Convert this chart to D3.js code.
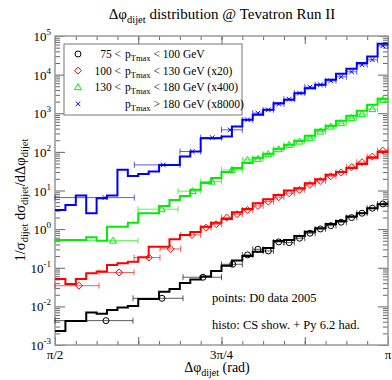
<!DOCTYPE html>
<html>
<head>
<meta charset="utf-8">
<script src="https://cdn.jsdelivr.net/npm/d3@7"></script>
<style>
body { margin: 0; background: #fff; }
text { font-family: "Liberation Serif", "Times New Roman", serif; fill: #000; }
</style>
</head>
<body>
<div id="chart"></div>
<script>
// bords des bins de l'histogramme (rad)
const histEdges = [1.5708,1.6199,1.6690,1.7181,1.7671,1.8162,1.8653,1.9144,1.9635,2.0126,2.0617,2.1108,2.1598,2.2089,2.2580,2.3071,2.3562,2.4053,2.4544,2.5035,2.5525,2.6016,2.6507,2.6998,2.7489,2.7980,2.8471,2.8962,2.9452,2.9943,3.0434,3.0925,3.1416];

// histos (CS show. + Py 6.2 had.)
const blackHist = [0.0023,0.0042,0.0042,0.0069,0.0064,0.0081,0.0093,0.0102,0.0156,0.0156,0.024,0.028,0.040,0.050,0.059,0.083,0.113,0.153,0.202,0.261,0.326,0.494,0.525,0.667,0.861,1.05,1.36,1.63,2.11,2.58,3.48,4.42];
const redHist = [0.0513,0.038,0.0513,0.0722,0.0802,0.118,0.131,0.144,0.187,0.352,0.352,0.547,0.708,0.845,1.16,1.47,1.84,2.74,3.34,4.69,5.95,7.69,9.94,11.5,15.5,19.6,25.4,30.3,38.5,48.9,70.0,100];
const greenHist = [0.525,0.525,0.525,0.617,0.503,1.16,1.16,1.47,2.58,2.58,3.99,5.71,7.24,10.4,15.7,21.2,30.3,38.5,51.9,70.0,88.8,120,152,193,260,372,472,635,857,1153,1652,2360];
const blueHist = [3.14,4.24,7.38,2.58,6.32,7.38,34.2,23.9,26.9,30.9,46.0,46.0,75.5,102,226,226,249,452,675,910,1225,1828,2224,3319,4470,5445,7330,10500,14130,19860,29440,62800];

// points D0 : bords, position x, valeur
const blackEdges = [1.5708,1.9387,2.1746,2.3562,2.4544,2.5035,2.5525,2.6016,2.6507,2.6998,2.7489,2.7980,2.8471,2.8962,2.9452,2.9943,3.0434,3.0925,3.1416];
const blackX = [1.8114,2.0755,2.2689,2.4090,2.4790,2.5280,2.5771,2.6262,2.6753,2.7244,2.7735,2.8226,2.8717,2.9207,2.9698,3.0189,3.0680,3.1171];
const blackY = [0.00427,0.0162,0.0568,0.123,0.215,0.301,0.272,0.466,0.447,0.581,0.783,1.01,1.23,1.51,1.99,2.58,3.48,4.50];

const redEdges = [1.5708,1.7784,1.9435,2.0661,2.1637,2.2580,2.3071,2.3562,2.4053,2.4544,2.5035,2.5525,2.6016,2.6507,2.6998,2.7489,2.7980,2.8471,2.8962,2.9452,2.9943,3.0434,3.0925,3.1416];
const redX = [1.6840,1.8727,2.0142,2.1166,2.2170,2.2825,2.3316,2.3807,2.4298,2.4789,2.5280,2.5771,2.6262,2.6753,2.7244,2.7734,2.8225,2.8716,2.9207,2.9698,3.0189,3.0680,3.1171];
const redY = [0.0343,0.0755,0.183,0.307,0.708,1.09,1.34,1.99,2.43,3.14,3.99,5.15,6.70,8.51,10.4,14.0,17.7,23.4,29.4,40.2,54.1,75.5,108];

const greenEdges = [1.5708,1.9623,2.1510,2.2580,2.3562,2.4544,2.5035,2.5525,2.6016,2.6507,2.6998,2.7489,2.7980,2.8471,2.8962,2.9452,2.9943,3.0434,3.0925,3.1416];
const greenX = [1.8444,2.0741,2.2203,2.3100,2.4057,2.4790,2.5280,2.5771,2.6262,2.6753,2.7244,2.7735,2.8226,2.8717,2.9207,2.9698,3.0189,3.0680,3.1171];
const greenY = [0.503,3.28,9.6,17.0,34.2,62.1,65.9,87.1,117,152,185,226,336,452,554,747,948,1276,2224];

const blueEdges = [1.5708,1.9449,2.1604,2.2580,2.3562,2.4544,2.5035,2.5525,2.6016,2.6507,2.6998,2.7489,2.7980,2.8471,2.8962,2.9452,2.9943,3.0434,3.0925,3.1416];
const blueX = [1.8067,2.0817,2.2185,2.3128,2.3963,2.4790,2.5280,2.5771,2.6262,2.6753,2.7244,2.7735,2.8226,2.8717,2.9207,2.9698,3.0189,3.0680,3.1171];
const blueY = [6.55,46.0,102,234,372,675,1007,1225,1722,2317,3319,4745,5445,6905,8770,11830,17950,24160,55700];

// legende et graduations
const legendPrefix = ["75 <", "100 <", "130 <", ""];
const legendSuffix = [" < 100 GeV", " < 130 GeV (x20)", " < 180 GeV (x400)", " > 180 GeV (x8000)"];
const xTickLabels = [{v: Math.PI / 2, t: "π/2"}, {v: 3 * Math.PI / 4, t: "3π/4"}, {v: Math.PI, t: "π"}];
const yDecades = [-3, -2, -1, 0, 1, 2, 3, 4, 5];

const W = 392, H = 380;
const margin = {top: 36, right: 4, bottom: 35, left: 55},
    width = W - margin.left - margin.right,
    height = H - margin.top - margin.bottom;

const svgRoot = d3.select("#chart").append("svg")
    .attr("width", W).attr("height", H);
const svg = svgRoot.append("g")
    .attr("transform", `translate(${margin.left},${margin.top})`);

const x = d3.scaleLinear().domain([Math.PI / 2, Math.PI]).range([0, width]);
const y = d3.scaleLog().domain([1e-3, 1e5]).range([height, 0]);

// graduations
const minorX = d3.range(17).map(i => Math.PI / 2 + i * Math.PI / 32);
const majorX = d3.range(5).map(i => Math.PI / 2 + i * Math.PI / 8);
const majorY = yDecades.map(d => Math.pow(10, d));
const minorY = [];
yDecades.slice(0, -1).forEach(d => { for (let k = 2; k < 10; k++) minorY.push(k * Math.pow(10, d)); });

function styleAxis(g) {
    g.select(".domain").remove();
    g.selectAll("line").attr("stroke", "#666");
}
svg.append("g").attr("transform", `translate(0,${height})`)
    .call(d3.axisBottom(x).tickValues(minorX).tickSize(-4).tickFormat("")).call(styleAxis);
svg.append("g").attr("transform", `translate(0,${height})`)
    .call(d3.axisBottom(x).tickValues(majorX).tickSize(-8).tickFormat("")).call(styleAxis);
svg.append("g")
    .call(d3.axisTop(x).tickValues(minorX).tickSize(-4).tickFormat("")).call(styleAxis);
svg.append("g")
    .call(d3.axisTop(x).tickValues(majorX).tickSize(-8).tickFormat("")).call(styleAxis);
svg.append("g").call(d3.axisLeft(y).tickValues(minorY).tickSize(-5).tickFormat("")).call(styleAxis);
svg.append("g").call(d3.axisLeft(y).tickValues(majorY).tickSize(-10).tickFormat("")).call(styleAxis);
svg.append("g").attr("transform", `translate(${width},0)`)
    .call(d3.axisRight(y).tickValues(minorY).tickSize(-5).tickFormat("")).call(styleAxis);
svg.append("g").attr("transform", `translate(${width},0)`)
    .call(d3.axisRight(y).tickValues(majorY).tickSize(-10).tickFormat("")).call(styleAxis);

// cadre
svg.append("rect").attr("width", width).attr("height", height)
    .attr("fill", "none").attr("stroke", "#999").attr("stroke-width", 1.5);

// labels des axes
svg.selectAll(".xlab").data(xTickLabels).join("text")
    .attr("x", d => x(d.v)).attr("y", height + 14)
    .attr("text-anchor", "middle").style("font-size", "13px")
    .text(d => d.t);

const ylab = svg.selectAll(".ylab").data(yDecades).join("text")
    .attr("x", -4).attr("y", d => y(Math.pow(10, d)) + 5)
    .attr("text-anchor", "end").style("font-size", "13px");
ylab.append("tspan").text("10");
ylab.append("tspan").attr("dy", -6).style("font-size", "9px").text(d => d < 0 ? "-" + (-d) : d);

// histogrammes et points
const series = [
    {color: "#000000", hist: blackHist, edges: blackEdges, px: blackX, py: blackY, sym: "circle"},
    {color: "#ff0000", hist: redHist, edges: redEdges, px: redX, py: redY, sym: "diamond"},
    {color: "#00ee00", hist: greenHist, edges: greenEdges, px: greenX, py: greenY, sym: "triangle"},
    {color: "#0000ff", hist: blueHist, edges: blueEdges, px: blueX, py: blueY, sym: "cross"}
];

const symbols = {
    circle: "M3,0A3,3 0 1,1 -3,0A3,3 0 1,1 3,0Z",
    diamond: "M0,-3.5L3.5,0L0,3.5L-3.5,0Z",
    triangle: "M0,-3.5L3.5,2.5L-3.5,2.5Z",
    cross: "M-2.3,-2.3L2.3,2.3M-2.3,2.3L2.3,-2.3"
};

const stepLine = d3.line().x(d => x(d[0])).y(d => y(d[1])).curve(d3.curveStepAfter);

const plot = svg.append("g");
series.forEach(s => {
    const pts = s.hist.map((v, i) => [histEdges[i], v]);
    pts.push([histEdges[histEdges.length - 1], s.hist[s.hist.length - 1]]);
    plot.append("path").datum(pts)
        .attr("d", stepLine)
        .attr("fill", "none").attr("stroke", s.color).attr("stroke-width", 2);

    const data = s.py.map((v, i) => ({x: s.px[i], lo: s.edges[i], hi: s.edges[i + 1], v: v}));
    const g = plot.append("g").attr("stroke", s.color).attr("fill", "none");
    g.selectAll(".eb").data(data).join("path")
        .attr("stroke-opacity", 0.65)
        .attr("d", d => {
            const yy = y(d.v), a = x(d.lo), b = x(d.hi);
            return `M${a},${yy}H${b}M${a},${yy - 3}V${yy + 3}M${b},${yy - 3}V${yy + 3}`;
        });
    g.selectAll(".pt").data(data).join("path")
        .attr("transform", d => `translate(${x(d.x)},${y(d.v)})`)
        .attr("d", symbols[s.sym]);
});

// legende
const leg = svg.append("g").attr("transform", `translate(${64 - margin.left},${44 - margin.top})`);
leg.append("rect").attr("width", 178).attr("height", 71)
    .attr("fill", "#fff").attr("stroke", "#777").attr("stroke-width", 1);
series.forEach((s, i) => {
    const cy = 10 + i * 16.6;
    leg.append("path").attr("transform", `translate(14,${cy})`)
        .attr("d", symbols[s.sym]).attr("fill", "none").attr("stroke", s.color);
    leg.append("text").attr("x", 57).attr("y", cy + 4)
        .attr("text-anchor", "end").style("font-size", "11.5px").text(legendPrefix[i]);
    const t = leg.append("text").attr("x", 61).attr("y", cy + 4).style("font-size", "11.5px");
    t.append("tspan").text("p");
    t.append("tspan").attr("dy", 3).style("font-size", "8.5px").text("Tmax");
    t.append("tspan").attr("dy", -3).text(legendSuffix[i]);
});

// annotations
svgRoot.append("text").attr("x", 212).attr("y", 302).style("font-size", "12.5px").text("points: D0 data 2005");
svgRoot.append("text").attr("x", 212).attr("y", 329).style("font-size", "12.5px").text("histo: CS show. + Py 6.2 had.");

// titre
const title = svgRoot.append("text").attr("x", 222).attr("y", 19)
    .attr("text-anchor", "middle").style("font-size", "15px");
title.append("tspan").text("Δφ");
title.append("tspan").attr("dy", 4).style("font-size", "10.5px").text("dijet");
title.append("tspan").attr("dy", -4).text(" distribution @ Tevatron Run II");

// titre axe x
const xt = svgRoot.append("text").attr("x", 217).attr("y", 372)
    .attr("text-anchor", "middle").style("font-size", "14px");
xt.append("tspan").text("Δφ");
xt.append("tspan").attr("dy", 4).style("font-size", "10px").text("dijet");
xt.append("tspan").attr("dy", -4).text(" (rad)");

// titre axe y
const yt = svgRoot.append("text")
    .attr("transform", "translate(25,200) rotate(-90)")
    .attr("text-anchor", "middle").style("font-size", "14.5px");
yt.append("tspan").text("1/σ");
yt.append("tspan").attr("dy", 3).style("font-size", "10.5px").text("dijet");
yt.append("tspan").attr("dy", -3).text(" dσ");
yt.append("tspan").attr("dy", 3).style("font-size", "10.5px").text("dijet");
yt.append("tspan").attr("dy", -3).text("/dΔφ");
yt.append("tspan").attr("dy", 3).style("font-size", "10.5px").text("dijet");
</script>
</body>
</html>
